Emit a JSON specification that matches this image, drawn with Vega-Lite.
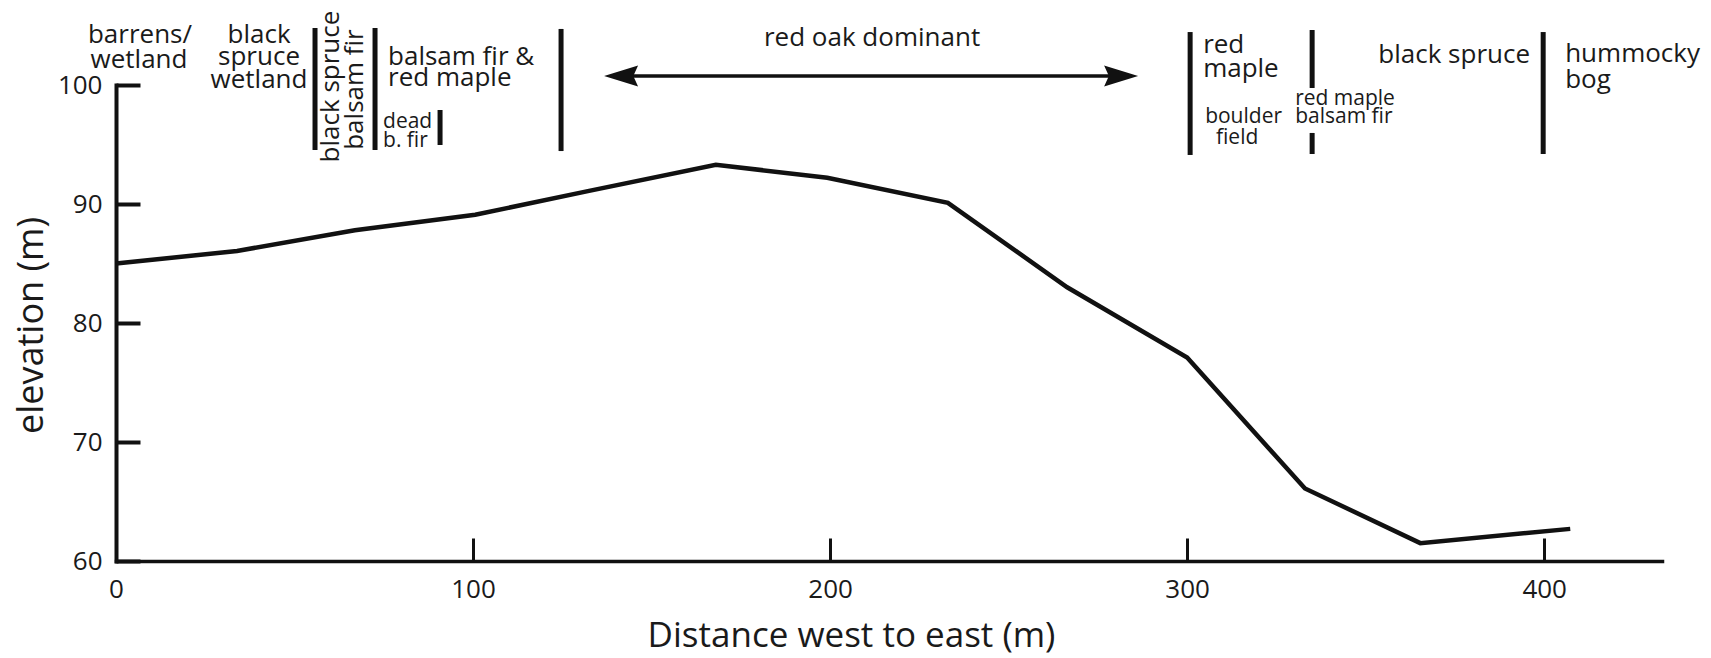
{
  "$schema": "https://vega.github.io/schema/vega-lite/v6.json",
  "width": 1546,
  "height": 476,
  "autosize": {"type": "none"},
  "padding": {"left": 116, "top": 85, "right": 49, "bottom": 97},
  "background": "white",
  "config": {
    "view": {"stroke": null},
    "font": "Open Sans",
    "text": {"font": "Open Sans", "color": "#1a1a1a"}
  },
  "datasets": {
    "profile": [
      {"distance": 0, "elevation": 85.0},
      {"distance": 33.9, "elevation": 86.05},
      {"distance": 66.9, "elevation": 87.8},
      {"distance": 100.6, "elevation": 89.1},
      {"distance": 132.5, "elevation": 91.1},
      {"distance": 168, "elevation": 93.3},
      {"distance": 199.2, "elevation": 92.2},
      {"distance": 233, "elevation": 90.1},
      {"distance": 266.4, "elevation": 83.0},
      {"distance": 300, "elevation": 77.1},
      {"distance": 333, "elevation": 66.1},
      {"distance": 365.3, "elevation": 61.5},
      {"distance": 407.3, "elevation": 62.7}
    ],
    "bars": [
      {"x": 55.74, "y": 104.79, "y2": 94.54},
      {"x": 72.55, "y": 104.79, "y2": 94.54},
      {"x": 90.76, "y": 97.9, "y2": 94.96},
      {"x": 124.65, "y": 104.71, "y2": 94.45},
      {"x": 300.84, "y": 104.45, "y2": 94.12},
      {"x": 335.01, "y": 104.62, "y2": 99.75},
      {"x": 335.01, "y": 95.97, "y2": 94.2},
      {"x": 399.72, "y": 104.45, "y2": 94.2}
    ],
    "arrow": [
      {"x": 141.46, "x2": 281.51, "y": 100.76}
    ],
    "arrowLeft": [{"x": 141.46, "y": 100.76}],
    "arrowRight": [{"x": 281.51, "y": 100.76}],
    "bigCenter": [
      {"label": "barrens/", "x": 6.72, "y": 103.53},
      {"label": "wetland", "x": 6.44, "y": 101.43},
      {"label": "black", "x": 40.06, "y": 103.53},
      {"label": "spruce", "x": 40.06, "y": 101.68},
      {"label": "wetland", "x": 40.06, "y": 99.75},
      {"label": "red oak dominant", "x": 211.76, "y": 103.3},
      {"label": "black spruce", "x": 374.79, "y": 101.85}
    ],
    "bigLeft": [
      {"label": "balsam fir &", "x": 76.19, "y": 101.68},
      {"label": "red maple", "x": 76.19, "y": 99.92},
      {"label": "red", "x": 304.48, "y": 102.69},
      {"label": "maple", "x": 304.48, "y": 100.67},
      {"label": "hummocky", "x": 405.88, "y": 101.93},
      {"label": "bog", "x": 405.88, "y": 99.75}
    ],
    "smallLeft": [
      {"label": "dead", "x": 74.79, "y": 96.39},
      {"label": "b. fir", "x": 74.79, "y": 94.79},
      {"label": "boulder", "x": 305.04, "y": 96.81},
      {"label": "red maple", "x": 330.25, "y": 98.32},
      {"label": "balsam fir", "x": 330.25, "y": 96.81}
    ],
    "smallCenter": [
      {"label": "field", "x": 314.01, "y": 95.04}
    ],
    "rotated": [
      {"label": "black spruce", "x": 62.46, "y": 99.87},
      {"label": "balsam fir", "x": 69.19, "y": 99.62}
    ]
  },
  "layer": [
    {
      "data": {"name": "profile"},
      "mark": {"type": "line", "color": "#111111", "strokeWidth": 4.5, "strokeJoin": "miter"},
      "encoding": {
        "x": {
          "field": "distance",
          "type": "quantitative",
          "scale": {"domain": [0, 433], "nice": false, "zero": false},
          "axis": {
            "values": [0, 100, 200, 300, 400],
            "title": "Distance west to east (m)",
            "grid": false,
            "domainColor": "#111111",
            "domainWidth": 3.5,
            "domainCap": "square",
            "tickColor": "#111111",
            "tickWidth": 3,
            "tickSize": -23,
            "labelFont": "Open Sans",
            "labelFontSize": 26,
            "labelColor": "#1a1a1a",
            "labelBaseline": "alphabetic",
            "labelPadding": 59,
            "labelFlush": false,
            "labelOverlap": false,
            "titleFont": "Open Sans",
            "titleFontSize": 35,
            "titleFontWeight": "normal",
            "titleColor": "#1a1a1a",
            "titleX": 735,
            "titleY": 85,
            "titleBaseline": "alphabetic",
            "titleAlign": "center"
          }
        },
        "y": {
          "field": "elevation",
          "type": "quantitative",
          "scale": {"domain": [60, 100], "nice": false, "zero": false},
          "axis": {
            "values": [60, 70, 80, 90, 100],
            "title": "elevation (m)",
            "grid": false,
            "domainColor": "#111111",
            "domainWidth": 4,
            "domainCap": "square",
            "tickColor": "#111111",
            "tickWidth": 4,
            "tickSize": -24,
            "labelFont": "Open Sans",
            "labelFontSize": 26,
            "labelColor": "#1a1a1a",
            "labelBaseline": "middle",
            "labelAlign": "right",
            "labelPadding": 38,
            "labelFlush": false,
            "labelOverlap": false,
            "titleFont": "Open Sans",
            "titleFontSize": 36,
            "titleFontWeight": "normal",
            "titleColor": "#1a1a1a",
            "titleX": -85,
            "titleY": 240,
            "titleAngle": 270,
            "titleBaseline": "middle",
            "titleAlign": "center"
          }
        }
      }
    },
    {
      "data": {"name": "bars"},
      "mark": {"type": "rule", "color": "#111111", "strokeWidth": 5},
      "encoding": {
        "x": {"field": "x", "type": "quantitative"},
        "y": {"field": "y", "type": "quantitative"},
        "y2": {"field": "y2"}
      }
    },
    {
      "data": {"name": "arrow"},
      "mark": {"type": "rule", "color": "#111111", "strokeWidth": 3.5},
      "encoding": {
        "x": {"field": "x", "type": "quantitative"},
        "x2": {"field": "x2"},
        "y": {"field": "y", "type": "quantitative"}
      }
    },
    {
      "data": {"name": "arrowLeft"},
      "mark": {"type": "point", "shape": "M-1,0L1,-0.62L0.72,0L1,0.62Z", "size": 1156, "filled": true, "color": "#111111", "opacity": 1},
      "encoding": {
        "x": {"field": "x", "type": "quantitative"},
        "y": {"field": "y", "type": "quantitative"}
      }
    },
    {
      "data": {"name": "arrowRight"},
      "mark": {"type": "point", "shape": "M1,0L-1,-0.62L-0.72,0L-1,0.62Z", "size": 1156, "filled": true, "color": "#111111", "opacity": 1},
      "encoding": {
        "x": {"field": "x", "type": "quantitative"},
        "y": {"field": "y", "type": "quantitative"}
      }
    },
    {
      "data": {"name": "bigCenter"},
      "mark": {"type": "text", "fontSize": 26, "align": "center", "baseline": "alphabetic"},
      "encoding": {
        "x": {"field": "x", "type": "quantitative"},
        "y": {"field": "y", "type": "quantitative"},
        "text": {"field": "label"}
      }
    },
    {
      "data": {"name": "bigLeft"},
      "mark": {"type": "text", "fontSize": 26, "align": "left", "baseline": "alphabetic"},
      "encoding": {
        "x": {"field": "x", "type": "quantitative"},
        "y": {"field": "y", "type": "quantitative"},
        "text": {"field": "label"}
      }
    },
    {
      "data": {"name": "smallLeft"},
      "mark": {"type": "text", "fontSize": 21, "align": "left", "baseline": "alphabetic"},
      "encoding": {
        "x": {"field": "x", "type": "quantitative"},
        "y": {"field": "y", "type": "quantitative"},
        "text": {"field": "label"}
      }
    },
    {
      "data": {"name": "smallCenter"},
      "mark": {"type": "text", "fontSize": 21, "align": "center", "baseline": "alphabetic"},
      "encoding": {
        "x": {"field": "x", "type": "quantitative"},
        "y": {"field": "y", "type": "quantitative"},
        "text": {"field": "label"}
      }
    },
    {
      "data": {"name": "rotated"},
      "mark": {"type": "text", "fontSize": 26, "align": "center", "baseline": "alphabetic", "angle": 270},
      "encoding": {
        "x": {"field": "x", "type": "quantitative"},
        "y": {"field": "y", "type": "quantitative"},
        "text": {"field": "label"}
      }
    }
  ]
}
